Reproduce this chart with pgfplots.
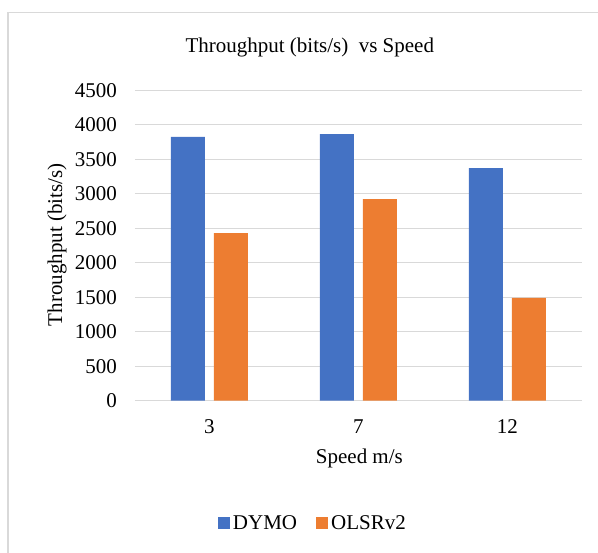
\documentclass[border=0pt]{standalone}
\usepackage{pgfplots}
\pgfplotsset{compat=1.18}
\usepackage{fontspec}
\setmainfont{Liberation Serif}
\definecolor{dymo}{HTML}{4472C4}
\definecolor{olsr}{HTML}{ED7D31}
\definecolor{gridgray}{HTML}{D9D9D9}
\newcommand{\cf}{\fontsize{21}{25}\selectfont}

\begin{document}
\begin{tikzpicture}[x=1pt,y=1pt]
\useasboundingbox (0,0) rectangle (598,553);
\clip (0,0) rectangle (598,553);
% chart frame (cut at right and bottom as in the source)
\draw[gridgray, line width=1.2pt] (8,-10) -- (8,540.5) -- (610,540.5);

\begin{axis}[
    at={(135pt,152.3pt)}, anchor=south west,
    scale only axis,
    width=447pt, height=310.4pt,
    xmin=-0.5, xmax=2.5,
    ymin=0, ymax=4500,
    ytick={0,500,...,4500},
    xtick={0,1,2}, xticklabels={3,7,12},
    ybar=9pt, bar width=34pt,
    ymajorgrids, grid style={gridgray, line width=1.3pt},
    axis line style={draw=none},
    major tick length=0pt,
    /pgf/number format/assume math mode=true,
    /pgf/number format/1000 sep={},
    tick label style={font=\cf},
    yticklabel style={anchor=east, inner sep=0pt, xshift=-18pt},
    xticklabel style={anchor=north, inner sep=0pt, yshift=-19pt},
    title={Throughput (bits/s)\ \ vs Speed},
    title style={font=\cf, at={(axis description cs:0.391,1.12)}, anchor=center},
    xlabel={Speed m/s},
    xlabel style={font=\cf, at={(axis description cs:0.502,-0.1846)}, anchor=center},
    ylabel={Throughput (bits/s)},
    ylabel style={font=\cf, at={(axis description cs:-0.1745,0.502)}, anchor=center},
    legend columns=2,
    legend image code/.code={\fill[#1] (0pt,-6pt) rectangle (12pt,6pt);},
    legend style={font=\cf, at={(axis description cs:0.399,-0.394)}, anchor=center,
        draw=none, fill=none, inner sep=0pt,
        nodes={inner xsep=3pt, inner ysep=0pt},
        /tikz/every even column/.append style={column sep=16pt}},
]
\addplot[fill=dymo, draw=none] coordinates {(0,3823) (1,3866) (2,3373)};
\addlegendentry{DYMO}
\addplot[fill=olsr, draw=none] coordinates {(0,2431) (1,2924) (2,1489)};
\addlegendentry{OLSRv2}
\end{axis}
\end{tikzpicture}
\end{document}
